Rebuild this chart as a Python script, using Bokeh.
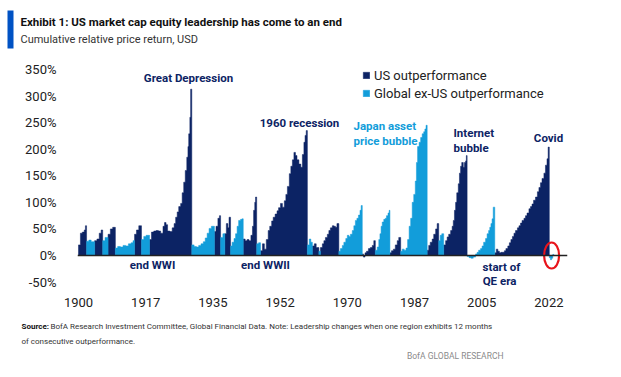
from bokeh.plotting import figure
from bokeh.layouts import column
from bokeh.models import (ColumnDataSource, Label, Legend, LegendItem, Span, Range1d,
                          FixedTicker, PrintfTickFormatter, BoxAnnotation)
from bokeh.embed import file_html
from bokeh.resources import INLINE

# ---------------- data ----------------
period_start = [1900.0, 1902.1, 1904.2, 1906.3, 1907.7, 1909.6, 1914.6, 1916.4,
                1918.5, 1929.5, 1935.4, 1937.0, 1938.1, 1939.6, 1942.9, 1946.4,
                1947.4, 1959.6, 1960.9, 1962.6, 1963.0, 1967.8, 1973.9, 1977.3,
                1981.1, 1983.9, 1990.8, 1993.8, 1995.1, 2001.2, 2008.4, 2022.6]
period_leader = ["US", "Global"] * 16
series_end = 2023.8

year = [
    1900.0, 1900.5, 1901.0, 1901.5, 1901.8,
    1902.1, 1902.7, 1903.3,
    1904.2, 1904.8, 1905.4, 1905.9,
    1906.3, 1906.9,
    1907.7, 1908.3, 1908.9,
    1909.6, 1910.2, 1910.9, 1911.6, 1912.3, 1913.0, 1913.7, 1914.2,
    1914.6, 1915.1, 1915.7,
    1916.4, 1917.0, 1917.6,
    1918.5, 1919.0, 1919.6, 1920.2, 1920.8, 1921.4, 1922.0, 1922.4, 1922.8, 1923.2,
    1923.8, 1924.4, 1924.9, 1925.3, 1925.7, 1926.1, 1926.6, 1927.0, 1927.4, 1927.8,
    1928.2, 1928.5, 1928.7, 1929.0, 1929.2,
    1929.5, 1930.1, 1930.7, 1931.3, 1931.9, 1932.5, 1933.0, 1933.5, 1934.0, 1934.6,
    1935.4, 1935.8, 1936.3, 1936.7,
    1937.0, 1937.6,
    1938.1, 1938.5, 1938.9, 1939.2,
    1939.6, 1940.0, 1940.5, 1940.9, 1941.3, 1941.7, 1942.2, 1942.6,
    1942.9, 1943.4, 1943.9, 1944.4, 1944.9, 1945.3, 1945.6, 1945.9, 1946.1,
    1946.4, 1946.9,
    1947.4, 1947.9, 1948.4, 1948.9, 1949.4, 1949.8, 1950.3, 1950.7, 1951.2, 1951.7,
    1952.1, 1952.6, 1953.1, 1953.6, 1954.0, 1954.4, 1954.9, 1955.3, 1955.7, 1956.1,
    1956.5, 1956.9, 1957.4, 1957.9, 1958.3, 1958.7, 1959.0, 1959.3,
    1959.6, 1960.1, 1960.5,
    1960.9, 1961.4, 1961.9,
    1962.6,
    1963.0, 1963.5, 1963.9, 1964.3, 1964.8, 1965.2, 1965.6, 1966.1, 1966.5, 1966.9, 1967.3,
    1967.8, 1968.2, 1968.7, 1969.1, 1969.6, 1970.0, 1970.4, 1970.8, 1971.3, 1971.7,
    1972.1, 1972.5, 1972.9, 1973.3, 1973.6,
    1973.9, 1974.2, 1974.6, 1975.0, 1975.5, 1976.0, 1976.5, 1976.9,
    1977.3, 1977.8, 1978.2, 1978.5, 1978.8, 1979.1, 1979.5, 1979.9, 1980.2, 1980.6, 1980.9,
    1981.1, 1981.5, 1982.0, 1982.5, 1983.0, 1983.4,
    1983.9, 1984.3, 1984.8, 1985.3, 1985.7, 1986.1, 1986.5, 1986.9, 1987.3, 1987.7,
    1988.0, 1988.3, 1988.7, 1989.1, 1989.5, 1989.9, 1990.2, 1990.5,
    1990.8, 1991.2, 1991.6, 1992.1, 1992.5, 1993.0, 1993.4,
    1993.8, 1994.2, 1994.6,
    1995.1, 1995.6, 1996.0, 1996.4, 1996.9, 1997.3, 1997.6, 1997.9, 1998.2, 1998.5,
    1998.9, 1999.2, 1999.5, 1999.8, 2000.2, 2000.5, 2000.8, 2001.0,
    2001.2, 2001.7, 2002.2, 2002.8, 2003.4, 2003.8, 2004.2, 2004.7, 2005.1, 2005.5,
    2006.0, 2006.4, 2006.8, 2007.1, 2007.4, 2007.7, 2008.0,
    2008.4, 2008.8, 2009.2, 2009.6, 2010.0, 2010.5, 2010.9, 2011.3, 2011.8, 2012.2,
    2012.6, 2013.0, 2013.4, 2013.8, 2014.3, 2014.7, 2015.1, 2015.5, 2016.0, 2016.4,
    2016.8, 2017.3, 2017.7, 2018.1, 2018.5, 2019.0, 2019.5, 2019.9, 2020.3, 2020.7,
    2021.2, 2021.6, 2022.0, 2022.3,
    2022.6, 2022.9, 2023.2, 2023.5,
]
rel_return = [
    20, 42, 44, 48, 56,
    27, 29, 26,
    28, 31, 42, 48,
    28, 34,
    40, 50, 53,
    14, 17, 16, 19, 18, 22, 24, 28,
    40, 48, 56,
    30, 36, 38,
    30, 44, 46, 47, 46, 42, 55, 62, 58, 46,
    45, 52, 60, 72, 82, 92, 98, 118, 138, 160,
    185, 205, 229, 260, 313,
    20, 17, 16, 19, 22, 26, 33, 42, 51, 55,
    45, 55, 70, 75,
    34, 41,
    41, 60, 52, 72,
    18, 25, 32, 41, 55, 66, 68, 69,
    31, 28, 30, 28, 38, 55, 85, 100, 110,
    22, 24,
    9, 22, 12, 30, 47, 55, 65, 72, 78, 84,
    90, 98, 91, 103, 115, 130, 154, 168, 180, 194,
    188, 180, 172, 166, 190, 213, 226, 235,
    20, 31, 25,
    18, 22, 15,
    8,
    15, 22, 28, 34, 40, 47, 52, 56, 55, 53, 60,
    8, 13, 19, 25, 32, 38, 36, 40, 47, 56,
    66, 70, 76, 85, 94,
    3, -3, 5, 8, 13, 15, 19, 28,
    10, 16, 30, 41, 55, 63, 68, 70, 75, 80, 85,
    5, 9, 12, 20, 28, 34,
    8, 12, 10, 14, 30, 55, 70, 100, 115, 140,
    175, 205, 213, 222, 229, 233, 238, 245,
    10, 19, 25, 31, 40, 50, 60,
    28, 38, 41,
    20, 28, 35, 40, 47, 55, 66, 85, 100, 118,
    135, 155, 168, 175, 166, 175, 178, 188,
    -2, -4, -5, -3, 3, 6, 10, 13, 18, 25,
    32, 41, 47, 53, 60, 69, 91,
    5, 12, 8, 5, 6, 6, 9, 13, 18, 24,
    30, 36, 42, 47, 52, 56, 61, 66, 70, 75,
    80, 88, 92, 97, 104, 110, 120, 128, 137, 145,
    155, 170, 182, 204,
    -4, -8, -5, 2,
]

tick_years = [1900, 1917.5, 1935, 1952.5, 1970, 1987.5, 2005, 2022.5]
tick_labels = ["1900", "1917", "1935", "1952", "1970", "1987", "2005", "2022"]
y_ticks = [-50, 0, 50, 100, 150, 200, 250, 300, 350]

# ---------------- styling ----------------
NAVY = "#0C2364"
LIGHT = "#129DDA"
FONT = "Roboto"
TXT = "#222222"
W = 621

# one step-shaped area per leadership period
bounds = period_start + [series_end]
areas = {"US": dict(xs=[], ys=[]), "Global": dict(xs=[], ys=[])}
for k, lead in enumerate(period_leader):
    lo, hi = bounds[k], bounds[k + 1]
    idx = [i for i, yv in enumerate(year) if lo - 1e-9 <= yv < hi - 1e-9]
    xs, ys = [lo], [0]
    for j, i in enumerate(idx):
        x_right = year[idx[j + 1]] if j + 1 < len(idx) else hi
        xs += [year[i], x_right]
        ys += [rel_return[i], rel_return[i]]
    xs.append(hi)
    ys.append(0)
    areas[lead]["xs"].append(xs)
    areas[lead]["ys"].append(ys)


def blank(height, y0, y1):
    f = figure(width=W, height=height, x_range=Range1d(0, W), y_range=Range1d(y1, y0),
               x_axis_type=None, y_axis_type=None, output_backend="svg",
               toolbar_location=None, title=None, min_border=0)
    f.outline_line_color = None
    f.xgrid.visible = False
    f.ygrid.visible = False
    try:
        f.frame_align = False
    except Exception:
        pass
    return f


def txt(f, text, x, y, size, color, bold=False, align="left"):
    f.add_layout(Label(x=x, y=y, text=text, text_font=FONT, text_font_size=size,
                       text_color=color, text_font_style="bold" if bold else "normal",
                       text_align=align, text_baseline="middle"))


# ---------------- header ----------------
head = blank(58, 0, 58)
head.add_layout(BoxAnnotation(left=7, right=13, top=10, bottom=48, fill_color="#0052C4",
                              fill_alpha=1, line_color=None))
txt(head, "Exhibit 1: US market cap equity leadership has come to an end", 20, 21,
    "11.5px", "#111111", True)
txt(head, "Cumulative relative price return, USD", 20, 39, "11px", "#333333")

# ---------------- main chart ----------------
FL_PAGE, FB_PAGE = 77, 287   # frame left / bottom on the page (chart starts at y=58)

p = figure(width=W, height=252, x_range=(1899.74, 2027.34), y_range=(-60.2, 361.3),
           output_backend="svg", toolbar_location=None, title=None,
           min_border_left=77, min_border_right=54, min_border_top=5, min_border_bottom=23)
p.outline_line_color = None
p.xgrid.visible = False
p.ygrid.visible = False
try:
    p.frame_align = False
except Exception:
    pass

r_us = p.patches(xs="xs", ys="ys", source=ColumnDataSource(areas["US"]),
                 fill_color=NAVY, line_color=NAVY, line_width=0.5)
r_gl = p.patches(xs="xs", ys="ys", source=ColumnDataSource(areas["Global"]),
                 fill_color=LIGHT, line_color=LIGHT, line_width=0.5)

p.add_layout(Span(location=0, dimension="width", line_color="#222222", line_width=1.6))

# highlight of the latest period
last_mid = (period_start[-1] + series_end) / 2
p.ellipse(x=[last_mid], y=[0], width=15, height=26, width_units="screen",
          height_units="screen", fill_color=None, line_color="#E8141B", line_width=2.2)

xa = p.xaxis[0]
xa.ticker = FixedTicker(ticks=tick_years)
xa.major_label_overrides = {t: l for t, l in zip(tick_years, tick_labels)}
xa.axis_line_color = None
xa.major_tick_line_color = None
xa.minor_tick_line_color = None
xa.major_label_standoff = 4
xa.major_label_text_font = FONT
xa.major_label_text_font_size = "13px"
xa.major_label_text_color = TXT

ya = p.yaxis[0]
ya.ticker = FixedTicker(ticks=y_ticks)
ya.formatter = PrintfTickFormatter(format="%d%%")
ya.axis_line_color = None
ya.major_tick_line_color = None
ya.minor_tick_line_color = None
ya.major_label_standoff = 15
ya.major_label_text_font = FONT
ya.major_label_text_font_size = "13px"
ya.major_label_text_color = TXT

legend = Legend(items=[LegendItem(label="US outperformance", renderers=[r_us]),
                       LegendItem(label="Global ex-US outperformance", renderers=[r_gl])],
                location=(362 - FL_PAGE, FB_PAGE - 102), orientation="vertical",
                glyph_width=8, glyph_height=8, label_height=18, spacing=0, padding=0,
                margin=0, label_standoff=4, border_line_color=None,
                background_fill_alpha=0, label_text_font=FONT,
                label_text_font_size="13px", label_text_color=TXT)
p.add_layout(legend)


def lab(text, px, py, size, color, bold=True, align="left"):
    p.add_layout(Label(x=px - FL_PAGE, y=FB_PAGE - py, x_units="screen", y_units="screen",
                       text=text, text_font=FONT, text_font_size=size, text_color=color,
                       text_font_style="bold" if bold else "normal",
                       text_align=align, text_baseline="middle"))


A = "11.5px"
lab("Great Depression", 188, 77, A, NAVY, align="center")
lab("1960 recession", 299, 122, A, NAVY, align="center")
lab("Japan asset", 353, 125, A, LIGHT)
lab("price bubble", 353, 140, A, LIGHT)
lab("Internet", 453, 132, A, NAVY)
lab("bubble", 453, 147, A, NAVY)
lab("Covid", 548, 137, A, NAVY, align="center")
lab("start of", 501, 266, A, NAVY, align="center")
lab("QE era", 499, 280, A, NAVY, align="center")
lab("end WWI", 152, 264, A, NAVY, align="center")
lab("end WWII", 265, 264, A, NAVY, align="center")

# ---------------- footer ----------------
foot = blank(67, 310, 377)
txt(foot, "Source:", 21, 326, "8px", "#111111", True)
txt(foot, "BofA Research Investment Committee, Global Financial Data. Note: Leadership changes  when one region exhibits 12 months",
    50, 326, "8px", "#333333")
txt(foot, "of consecutive  outperformance.", 21, 341, "8px", "#333333")
txt(foot, "BofA GLOBAL RESEARCH", 503, 355, "8.5px", "#8A8A8A", align="right")

layout = column(head, p, foot, spacing=0)
open("out.html", "w").write(file_html(layout, INLINE))
